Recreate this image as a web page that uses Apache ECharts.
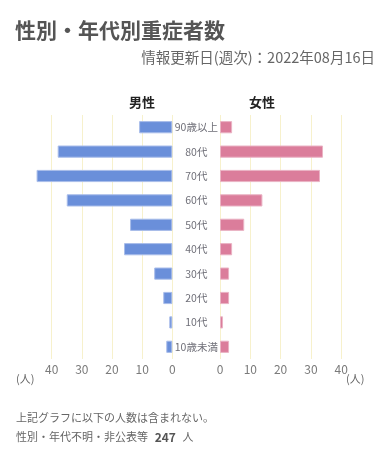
<!DOCTYPE html>
<html><head><meta charset="utf-8">
<script src="https://cdn.jsdelivr.net/npm/echarts@6/dist/echarts.min.js"></script>
<style>html,body{margin:0;padding:0;background:#fff}#c{width:391px;height:460px}</style>
</head><body><div id="c"></div>
<script>
var categories = ['90歳以上','80代','70代','60代','50代','40代','30代','20代','10代','10歳未満'];
var maleValues = [11, 38, 45, 35, 14, 16, 6, 3, 1, 2];
var femaleValues = [4, 34, 33, 14, 8, 4, 3, 3, 1, 3];
var tickValues = [0, 10, 20, 30, 40];
var axisMax = 50;
var unknownCount = 247;

var FONT = '"Noto Sans CJK JP", sans-serif';
var gridColor = '#f7f1cc';
var chart = echarts.init(document.getElementById('c'), null, {renderer: 'canvas'});

function xAxisCfg(gi, inverse) {
  return {
    type: 'value', gridIndex: gi, min: 0, max: axisMax, interval: 10, inverse: inverse,
    axisLine: {show: false}, axisTick: {show: false},
    splitLine: {show: true, showMinLine: true, showMaxLine: false, lineStyle: {color: gridColor, width: 1}},
    axisLabel: {
      color: '#7a7a7a', fontSize: 12, fontFamily: FONT, margin: 4, showMaxLabel: false,
      formatter: function (v) { return tickValues.indexOf(v) >= 0 ? String(v) : ''; }
    }
  };
}

chart.setOption({
  animation: false,
  title: [
    {text: '性別・年代別重症者数', left: 15, top: 20, padding: 0,
     textStyle: {fontSize: 21, fontWeight: 'bold', color: '#555', fontFamily: FONT}},
    {text: '情報更新日(週次)：2022年08月16日', right: 16, top: 50, padding: 0,
     textStyle: {fontSize: 14.5, fontWeight: 'normal', color: '#666', fontFamily: FONT}}
  ],
  grid: [
    {left: 21.5, width: 150.8, top: 115, bottom: 101},
    {left: 220, width: 151.5, top: 115, bottom: 101}
  ],
  xAxis: [xAxisCfg(0, true), xAxisCfg(1, false)],
  yAxis: [
    {type: 'category', gridIndex: 0, data: categories, inverse: true, position: 'right',
     axisLine: {show: false}, axisTick: {show: false}, splitLine: {show: false},
     axisLabel: {align: 'center', margin: 24, fontSize: 10.5, color: '#6f6f78', fontFamily: FONT}},
    {type: 'category', gridIndex: 1, data: categories, inverse: true,
     axisLine: {show: false}, axisTick: {show: false}, axisLabel: {show: false}, splitLine: {show: false}}
  ],
  series: [
    {name: '男性', type: 'bar', xAxisIndex: 0, yAxisIndex: 0, data: maleValues, barWidth: '50%',
     itemStyle: {color: '#6a8fda', borderColor: '#a9bdea', borderWidth: 1}},
    {name: '女性', type: 'bar', xAxisIndex: 1, yAxisIndex: 1, data: femaleValues, barWidth: '50%',
     itemStyle: {color: '#db7d9b', borderColor: '#eab3c4', borderWidth: 1}}
  ],
  graphic: [
    {type: 'text', left: 129, top: 96, style: {text: '男性', fill: '#222', font: 'bold 13px ' + FONT}},
    {type: 'text', left: 249, top: 96, style: {text: '女性', fill: '#222', font: 'bold 13px ' + FONT}},
    {type: 'text', left: 16, top: 373, style: {text: '(人)', fill: '#666', font: '11px ' + FONT}},
    {type: 'text', left: 346, top: 373, style: {text: '(人)', fill: '#666', font: '11px ' + FONT}},
    {type: 'text', left: 16, top: 412, style: {text: '上記グラフに以下の人数は含まれない。', fill: '#666', font: '11px ' + FONT}},
    {type: 'text', left: 16, top: 431, style: {
      text: '{a|性別・年代不明・非公表等}  {b|' + unknownCount + '}  {a|人}',
      rich: {a: {fill: '#666', fontSize: 11, fontFamily: FONT}, b: {fill: '#555', fontSize: 12, fontWeight: 'bold', fontFamily: FONT}}
    }}
  ]
});
</script></body></html>
